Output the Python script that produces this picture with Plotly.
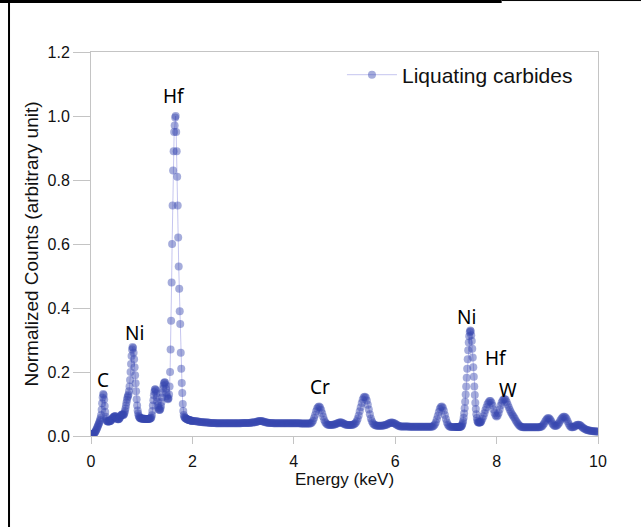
import numpy as np
import plotly.graph_objects as go

# ---- EDS spectrum ----
# Channels are uniform within each segment: energy = start + step * index
seg_start_kev = [0.00, 2.00, 7.20, 7.70]
seg_step_kev = [0.01, 0.02, 0.01, 0.02]

# 0.00 - 1.99 keV, 0.01 keV channels (one row = 0.1 keV)
counts_seg0 = [
    0.005, 0.005, 0.005, 0.006, 0.006, 0.007, 0.008, 0.010, 0.012, 0.015,
    0.018, 0.021, 0.025, 0.029, 0.033, 0.037, 0.041, 0.045, 0.050, 0.056,
    0.066, 0.082, 0.102, 0.120, 0.131, 0.128, 0.114, 0.094, 0.075, 0.060,
    0.052, 0.048, 0.046, 0.045, 0.045, 0.045, 0.046, 0.046, 0.047, 0.048,
    0.050, 0.052, 0.054, 0.056, 0.058, 0.060, 0.061, 0.062, 0.062, 0.061,
    0.058, 0.055, 0.053, 0.052, 0.052, 0.053, 0.055, 0.058, 0.061, 0.064,
    0.066, 0.067, 0.067, 0.066, 0.066, 0.068, 0.072, 0.078, 0.086, 0.095,
    0.105, 0.113, 0.120, 0.125, 0.130, 0.140, 0.155, 0.175, 0.200, 0.225,
    0.250, 0.270, 0.278, 0.275, 0.260, 0.240, 0.215, 0.190, 0.165, 0.140,
    0.115, 0.095, 0.080, 0.070, 0.063, 0.059, 0.057, 0.056, 0.055, 0.055,
    0.055, 0.055, 0.054, 0.054, 0.054, 0.054, 0.054, 0.053, 0.053, 0.053,
    0.053, 0.053, 0.053, 0.053, 0.054, 0.054, 0.054, 0.055, 0.056, 0.058,
    0.065, 0.078, 0.095, 0.112, 0.127, 0.138, 0.145, 0.146, 0.142, 0.133,
    0.120, 0.107, 0.096, 0.088, 0.083, 0.081, 0.082, 0.086, 0.094, 0.106,
    0.120, 0.135, 0.148, 0.158, 0.165, 0.168, 0.167, 0.160, 0.148, 0.135,
    0.124, 0.117, 0.115, 0.118, 0.130, 0.155, 0.200, 0.270, 0.360, 0.480,
    0.600, 0.720, 0.830, 0.890, 0.950, 0.970, 0.995, 1.000, 0.950, 0.890,
    0.810, 0.720, 0.620, 0.530, 0.460, 0.390, 0.350, 0.260, 0.210, 0.166,
    0.134, 0.100, 0.078, 0.066, 0.060, 0.057, 0.056, 0.055, 0.054, 0.053,
    0.052, 0.051, 0.051, 0.050, 0.050, 0.049, 0.049, 0.048, 0.048, 0.047,
]

# 2.00 - 7.18 keV, 0.02 keV channels (one row = 0.2 keV)
counts_seg1 = [
    0.048, 0.047, 0.047, 0.046, 0.046, 0.045, 0.045, 0.044, 0.044, 0.044,
    0.043, 0.043, 0.043, 0.042, 0.042, 0.042, 0.042, 0.041, 0.041, 0.041,
    0.041, 0.041, 0.041, 0.040, 0.040, 0.040, 0.040, 0.040, 0.040, 0.040,
    0.040, 0.040, 0.040, 0.040, 0.040, 0.040, 0.040, 0.040, 0.040, 0.040,
    0.040, 0.040, 0.040, 0.040, 0.040, 0.040, 0.040, 0.040, 0.040, 0.041,
    0.041, 0.041, 0.041, 0.041, 0.041, 0.041, 0.041, 0.041, 0.042, 0.042,
    0.042, 0.043, 0.043, 0.044, 0.045, 0.046, 0.047, 0.047, 0.047, 0.046,
    0.045, 0.044, 0.043, 0.042, 0.042, 0.041, 0.041, 0.041, 0.041, 0.041,
    0.040, 0.040, 0.040, 0.040, 0.040, 0.040, 0.040, 0.040, 0.040, 0.040,
    0.040, 0.040, 0.040, 0.040, 0.040, 0.040, 0.040, 0.040, 0.040, 0.040,
    0.040, 0.040, 0.040, 0.040, 0.040, 0.040, 0.040, 0.039, 0.039, 0.039,
    0.039, 0.039, 0.039, 0.039, 0.039, 0.039, 0.039, 0.040, 0.043, 0.048,
    0.056, 0.066, 0.077, 0.086, 0.091, 0.092, 0.089, 0.081, 0.071, 0.060,
    0.050, 0.043, 0.039, 0.036, 0.035, 0.034, 0.034, 0.034, 0.035, 0.035,
    0.036, 0.037, 0.038, 0.040, 0.041, 0.042, 0.043, 0.042, 0.041, 0.039,
    0.037, 0.036, 0.035, 0.034, 0.034, 0.034, 0.034, 0.034, 0.035, 0.036,
    0.038, 0.041, 0.046, 0.054, 0.064, 0.077, 0.090, 0.103, 0.114, 0.121,
    0.123, 0.120, 0.111, 0.098, 0.083, 0.068, 0.055, 0.046, 0.040, 0.036,
    0.034, 0.033, 0.032, 0.032, 0.032, 0.032, 0.032, 0.032, 0.033, 0.033,
    0.034, 0.035, 0.036, 0.038, 0.040, 0.041, 0.042, 0.042, 0.041, 0.040,
    0.038, 0.036, 0.034, 0.032, 0.031, 0.030, 0.030, 0.030, 0.030, 0.030,
    0.030, 0.030, 0.030, 0.030, 0.029, 0.029, 0.029, 0.029, 0.029, 0.029,
    0.029, 0.029, 0.029, 0.029, 0.029, 0.029, 0.029, 0.029, 0.029, 0.029,
    0.029, 0.029, 0.029, 0.029, 0.029, 0.029, 0.029, 0.030, 0.032, 0.036,
    0.042, 0.052, 0.063, 0.075, 0.085, 0.091, 0.092, 0.088, 0.079, 0.066,
    0.053, 0.042, 0.035, 0.031, 0.029, 0.028, 0.028, 0.028, 0.028, 0.028,
]

# 7.20 - 7.69 keV, 0.01 keV channels (Ni K-alpha)
counts_seg2 = [
    0.028, 0.028, 0.028, 0.028, 0.028, 0.028, 0.028, 0.029, 0.029, 0.029,
    0.030, 0.032, 0.035, 0.040, 0.047, 0.057, 0.070, 0.087, 0.107, 0.130,
    0.155, 0.182, 0.210, 0.240, 0.268, 0.292, 0.312, 0.325, 0.330, 0.327,
    0.315, 0.297, 0.273, 0.245, 0.215, 0.185, 0.155, 0.128, 0.104, 0.084,
    0.068, 0.056, 0.048, 0.044, 0.042, 0.042, 0.042, 0.042, 0.043, 0.044,
]

# 7.70 - 10.00 keV, 0.02 keV channels
counts_seg3 = [
    0.048, 0.054, 0.062, 0.071, 0.081, 0.090, 0.099, 0.105, 0.109, 0.109,
    0.104, 0.095, 0.083, 0.072, 0.064, 0.061, 0.064, 0.072, 0.083, 0.095,
    0.105, 0.111, 0.115, 0.116, 0.113, 0.106, 0.098, 0.090, 0.082, 0.075,
    0.069, 0.064, 0.059, 0.054, 0.048, 0.043, 0.038, 0.034, 0.031, 0.029,
    0.028, 0.027, 0.027, 0.027, 0.027, 0.027, 0.027, 0.027, 0.027, 0.027,
    0.027, 0.027, 0.027, 0.027, 0.027, 0.027, 0.027, 0.027, 0.028, 0.029,
    0.031, 0.035, 0.040, 0.046, 0.051, 0.055, 0.056, 0.055, 0.051, 0.045,
    0.039, 0.035, 0.032, 0.031, 0.032, 0.034, 0.038, 0.043, 0.049, 0.054,
    0.058, 0.060, 0.060, 0.058, 0.053, 0.046, 0.039, 0.033, 0.029, 0.027,
    0.027, 0.028, 0.030, 0.032, 0.034, 0.035, 0.035, 0.034, 0.032, 0.029,
    0.026, 0.024, 0.022, 0.020, 0.019, 0.018, 0.017, 0.017, 0.016, 0.016,
    0.015, 0.015, 0.015, 0.014, 0.014, 0.014,
]

# element labels: text, energy (keV), height (normalized counts)
peak_labels = ["C", "Ni", "Hf", "Cr", "Ni", "Hf", "W"]
peak_label_x = [0.24, 0.85, 1.64, 4.52, 7.40, 7.98, 8.22]
peak_label_y = [0.175, 0.322, 1.0625, 0.153, 0.372, 0.244, 0.144]

series_name = "Liquating carbides"
x_ticks = [0, 2, 4, 6, 8, 10]
y_ticks = [0.0, 0.2, 0.4, 0.6, 0.8, 1.0, 1.2]

# ---- assemble channels ----
segments = [counts_seg0, counts_seg1, counts_seg2, counts_seg3]
energy, counts = [], []
for start, step, seg in zip(seg_start_kev, seg_step_kev, segments):
    energy.extend(np.round(start + step * np.arange(len(seg)), 3).tolist())
    counts.extend(seg)

fig = go.Figure()
fig.add_trace(go.Scatter(
    x=energy, y=counts, mode="lines+markers", name=series_name,
    line=dict(color="rgba(150,150,225,0.55)", width=1),
    marker=dict(color="rgb(55,70,175)", size=8, opacity=0.45, line=dict(width=0)),
))

for t, xv, yv in zip(peak_labels, peak_label_x, peak_label_y):
    fig.add_annotation(x=xv, y=yv, xref="x", yref="y", text=t, showarrow=False,
                       font=dict(family="Noto Sans", size=19, color="black"))

grey = "#c4c4c4"
tick_font = dict(family="Liberation Sans, Arial", size=16, color="#111111")
fig.update_xaxes(range=[0, 10], tickvals=x_ticks, showline=True, linecolor=grey, linewidth=1,
                 mirror=True, ticks="outside", ticklen=7, tickcolor=grey, showgrid=False,
                 zeroline=False, tickfont=tick_font, ticklabelstandoff=4,
                 title=dict(text="Energy (keV)",
                            font=dict(family="Liberation Sans, Arial", size=17, color="#111111"),
                            standoff=0))
fig.update_yaxes(range=[0, 1.2], tickvals=y_ticks, tickformat=".1f", showline=True,
                 linecolor=grey, linewidth=1, mirror=True, ticks="outside", ticklen=17,
                 tickcolor=grey, showgrid=False, zeroline=False, tickfont=tick_font,
                 title=dict(text="Normalized Counts (arbitrary unit)",
                            font=dict(family="Liberation Sans, Arial", size=19, color="#111111"),
                            standoff=3))

# frame edges of the original figure crop
fig.add_shape(type="line", xref="paper", yref="paper", x0=-0.1617, x1=-0.1617, y0=1.1354, y1=-0.24,
              line=dict(color="black", width=2))
fig.add_shape(type="line", xref="paper", yref="paper", x0=-0.18, x1=0.81, y0=1.1315, y1=1.1315,
              line=dict(color="black", width=3))
fig.add_shape(type="line", xref="paper", yref="paper", x0=0.81, x1=1.09, y0=1.134, y1=1.134,
              line=dict(color="black", width=1))

fig.update_layout(
    width=641, height=527, margin=dict(l=91, r=43, t=52, b=91),
    plot_bgcolor="white", paper_bgcolor="white", showlegend=True,
    legend=dict(x=0.495, y=0.94, xanchor="left", yanchor="middle", bgcolor="rgba(0,0,0,0)",
                itemwidth=50,
                font=dict(family="Liberation Sans, Arial", size=21, color="#111111")),
)

fig.write_html("out.html", config={"displayModeBar": False},
               post_script="document.body.style.margin='0';")
